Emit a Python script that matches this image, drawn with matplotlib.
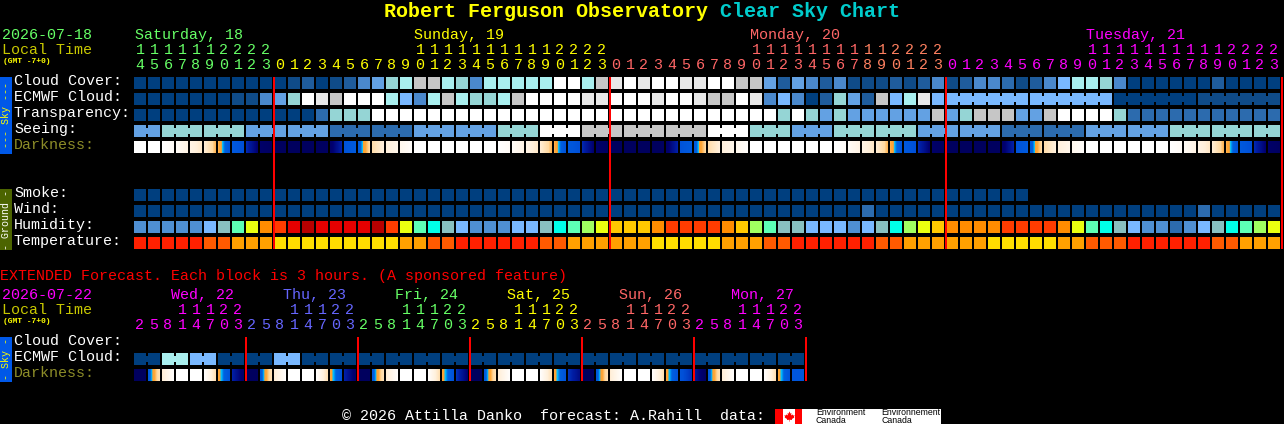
import matplotlib
matplotlib.use("Agg")
import numpy as np
import matplotlib.pyplot as plt
from matplotlib.colors import LinearSegmentedColormap

# ---------- data ----------
title_main = "Robert Ferguson Observatory"
title_tail = "Clear Sky Chart"
row_labels_sky = ["Cloud Cover:", "ECMWF Cloud:", "Transparency:", "Seeing:", "Darkness:"]
row_labels_ground = ["Smoke:", "Wind:", "Humidity:", "Temperature:"]

hours = [14, 15, 16, 17, 18, 19, 20, 21, 22, 23] + list(range(24)) * 3
ext_hours = [2, 5, 8, 11, 14, 17, 20, 23] * 6

cloud_cover = ("aaaaaaaaaa" "abcabcefhil"
               "liheiiiiijjilkjkjjkkjjllfcfecebbbcbcebceedbcegiihe" "aaaaaacaaaa")
ecmwf_cloud = ("aaaaaaabbefhjkljjjige" "ilihhiljjjjkkjjjkjjklljkegeachfclgikg"
               + "g" * 12 + "a" * 6 + "b" * 6)
transparency = ("a" * 13 + "dhhh" + "j" * 29 + "hjhfhf" + "fffff" + "lfhlllffl" + "jjjj" + "h" + "d" * 11)
seeing = ("ff" + "h" * 6 + "f" * 6 + "d" * 6 + "f" * 6 + "hhh" + "jjj" + "l" * 9 + "jjj" + "hhh"
          + "fff" + "h" * 6 + "f" * 6 + "d" * 6 + "f" * 6 + "h" * 8)
seeing_groups = [2] + [3] * 26 + [2]
ecmwf_groups = [1] * 58 + [6, 6, 6, 6]

smoke = "a" * 64
wind = "a" * 52 + "d" + "a" * 23 + "d" + "a" * 5
humidity = ("eeeeegtmyoRrDrrrrDRym"
            "ctgeeeggtcmnyuuuoRRRRounmttggge"
            "gtcnyuooooRRRRoymctgeedegtcmny")
temperature = ("RRRRR" "ooOOO" "YYYYYYYYY" "OO" "oo" "RRRRRR" "oo" "OOOOOO" "YYYYY" "OOO" "oo"
               "RRRRRR" "oo" "OOOOOO" "YYYYY" "OO" "ooo" "RRRRRR" "oo" "OOO")

dark_left = [0, 0, 0, .05, .15, .22, .41, .56, .70, .88,
             .93, .93, .93, .93, .88, .60, .56, .32, .20, .10, 0, 0, 0, 0, 0, 0, 0, .05, .15, .22, .41, .56, .70, .88,
             .93, .93, .93, .93, .88, .60, .56, .32, .20, .10, 0, 0, 0, 0, 0, 0, 0, .05, .15, .22, .41, .56, .70, .88,
             .93, .93, .93, .93, .88, .60, .56, .32, .20, .10, 0, 0, 0, 0, 0, 0, 0, .05, .15, .22, .41, .56, .70, .88]
dark_right = [0, 0, .05, .15, .25, .40, .60, .62, .85, .92,
              .93, .93, .93, .92, .72, .55, .34, .20, .12, .03, 0, 0, 0, 0, 0, 0, .05, .15, .25, .40, .60, .62, .85, .92,
              .93, .93, .93, .92, .72, .55, .34, .20, .12, .03, 0, 0, 0, 0, 0, 0, .05, .15, .25, .40, .60, .62, .85, .92,
              .93, .93, .93, .92, .72, .55, .34, .20, .12, .03, 0, 0, 0, 0, 0, 0, .05, .15, .25, .40, .60, .62, .85, .92]

ext_ecmwf = "aa" + "ii" + "gg" + "aa" + "aa" + "gg" + "a" * 36
ext_groups = [2] * 24
ext_dark_left = [.93, .56, .22, 0, 0, .02, .44, .72,
                 .93, .56, .22, 0, 0, .02, .44, .72,
                 .93, .56, .22, 0, 0, .02, .44, .68,
                 .93, .56, .22, 0, 0, .02, .44, .68,
                 .93, .56, .22, 0, 0, .02, .44, .60,
                 .75, .56, .22, 0, 0, .02, .44, .58]
ext_dark_right = [.93, .30, .02, 0, 0, .30, .60, .88,
                  .93, .30, .02, 0, 0, .30, .60, .88,
                  .93, .30, .02, 0, 0, .30, .60, .85,
                  .93, .30, .02, 0, 0, .30, .60, .80,
                  .93, .30, .02, 0, 0, .30, .60, .68,
                  .92, .30, .02, 0, 0, .30, .60, .58]

day_labels = ["Saturday, 18", "Sunday, 19", "Monday, 20", "Tuesday, 21"]
ext_day_labels = ["Wed, 22", "Thu, 23", "Fri, 24", "Sat, 25", "Sun, 26", "Mon, 27"]

assert all(len(r) == 82 for r in (cloud_cover, ecmwf_cloud, transparency, seeing, wind, humidity, temperature,
                                  dark_left, dark_right)), "row length"
assert len(ext_ecmwf) == 48 and len(ext_dark_left) == 48 and len(ext_dark_right) == 48, "ext length"

# ---------- styles ----------
palette = dict(a="#003F7F", b="#0F4B88", c="#1F5C9C", d="#2C6BAE", e="#4A88CC", f="#63A1E3", g="#79B8FF",
               h="#95D5D5", i="#A9EFEF", j="#FFFFFF", k="#E8E8E8", l="#C6C6C6")
hum_palette = dict(e="#4F8FD2", g="#79B8FF", t="#88C0C0", c="#00FFE8", m="#5DFFB5", n="#A0FF60", y="#EAFF10",
                   u="#FFC800", o="#FF8C00", R="#FF3C00", r="#E60000", D="#B80000", d="#2C6BAE")
tmp_palette = dict(R="#FF2000", o="#FF5A00", O="#FFA000", Y="#FFDD00")
dark_cmap = LinearSegmentedColormap.from_list("dark", [
    (0.00, "#FFFFFF"), (0.20, "#FFF0DC"), (0.35, "#FFD9A0"), (0.42, "#FFA838"), (0.46, "#FFA030"),
    (0.48, "#00C0FF"), (0.52, "#0060E0"), (0.62, "#0050D8"), (0.72, "#0020A8"), (0.85, "#000070"),
    (1.00, "#000050")])

GREEN, YELLOW, SALMON, MAGENTA, BLUE = "#66FF66", "#FFFF00", "#FF6666", "#FF00FF", "#6666FF"
OLIVE = "#C8C800"
MONO = "Liberation Mono"
X0, PITCH, CELL = 134, 14, 12
FS = 15 * 0.72   # 15 px text
LEAF = [(0, 1), (.18, .55), (.38, .7), (.3, .2), (.6, .4), (.7, .2), (1, .25), (.85, -.1), (.95, -.2), (.45, -.5),
        (.5, -.7), (.05, -.62), (.05, -1), (-.05, -1), (-.05, -.62), (-.5, -.7), (-.45, -.5), (-.95, -.2),
        (-.85, -.1), (-1, .25), (-.7, .2), (-.6, .4), (-.3, .2), (-.38, .7), (-.18, .55)]

fig = plt.figure(figsize=(12.84, 4.24), dpi=100, facecolor="black")
ax = fig.add_axes([0, 0, 1, 1], facecolor="black")
ax.set_xlim(0, 1284)
ax.set_ylim(424, 0)
ax.axis("off")


def txt(x, y, s, color="white", size=FS, ha="left", weight="normal", family=MONO, **kw):
    ax.text(x, y, s, color=color, fontsize=size, ha=ha, va="baseline", fontweight=weight, family=family, **kw)


def rect(x, y, w, h, color, z=2):
    bars = ax.bar(x, h, w, y, align="edge", color=color, linewidth=0, zorder=z)
    for b in bars:
        b.set_snap(False)


def cell_row(y, codes, pal, groups=None):
    xs = X0 + PITCH * np.arange(len(codes))
    bars = ax.bar(xs, CELL, CELL, y, align="edge", color=[pal[c] for c in codes], linewidth=0, zorder=2)
    for b in bars:
        b.set_snap(False)
    if groups:
        start = 0
        for g in groups:
            for k in range(start, start + g - 1):
                rect(xs[k] + CELL, y + 3, PITCH - CELL, 6, pal[codes[k]])
            start += g


def dark_row(y, left, right):
    for i, (a, b) in enumerate(zip(left, right)):
        x = X0 + PITCH * i
        grad = np.linspace(a, b, CELL).reshape(1, -1)
        ax.imshow(grad, cmap=dark_cmap, vmin=0, vmax=1, extent=(x, x + CELL, y + CELL, y),
                  aspect="auto", interpolation="nearest", zorder=2)
    ax.set_xlim(0, 1284)
    ax.set_ylim(424, 0)


# title
ax.text(384, 17, title_main, color=YELLOW, fontsize=20 * 0.72, fontweight="bold", family=MONO, va="baseline")
ax.text(384 + 12 * (len(title_main) + 1), 17, title_tail, color="#00CCCC", fontsize=20 * 0.72,
        fontweight="bold", family=MONO, va="baseline")

# header main
txt(2, 39, "2026-07-18", GREEN)
txt(2, 54, "Local Time", OLIVE)
txt(3, 63, "(GMT -7+0)", YELLOW, size=8 * 0.72, weight="bold")
for x, s, c in zip([135, 414, 750, 1086], day_labels, [GREEN, YELLOW, SALMON, MAGENTA]):
    txt(x, 39, s, c)
for i, h in enumerate(hours):
    c = GREEN if i < 10 else YELLOW if i < 34 else SALMON if i < 52 else "#FF8060" if i < 58 else MAGENTA
    cx = X0 + PITCH * i + CELL / 2
    if h >= 10:
        txt(cx, 54, str(h // 10), c, ha="center")
    txt(cx, 69, str(h % 10), c, ha="center")

# sky rows
for k, lab in enumerate(row_labels_sky):
    txt(14, 85 + 16 * k, lab, "#8C8C28" if lab == "Darkness:" else "white")
cell_row(77, cloud_cover, palette)
cell_row(93, ecmwf_cloud, palette, ecmwf_groups)
cell_row(109, transparency, palette)
cell_row(125, seeing, palette, seeing_groups)
dark_row(141, dark_left, dark_right)

# ground rows
for k, lab in enumerate(row_labels_ground):
    txt(14, 197 + 16 * k, lab)
cell_row(189, smoke, palette)
cell_row(205, wind, palette)
cell_row(221, humidity, hum_palette)
cell_row(237, temperature, tmp_palette)

# side strips
rect(0, 77, 12, 77, "#0058E8")
ax.text(6, 115.5, "--- Sky ---", color=YELLOW, fontsize=10 * 0.72, rotation=90, ha="center", va="center", family=MONO, zorder=3)
rect(0, 189, 12, 61, "#4C6400")
ax.text(6, 219.5, "- Ground -", color="white", fontsize=10 * 0.72, rotation=90, ha="center", va="center", family=MONO, zorder=3)
rect(0, 337, 12, 45, "#0058E8")
ax.text(6, 359.5, "- Sky -", color=YELLOW, fontsize=10 * 0.72, rotation=90, ha="center", va="center", family=MONO, zorder=3)

# day separators main
for i in (10, 34, 58, 82):
    rect(X0 + PITCH * i - 1, 77, 2, 172, "#FF0000", z=4)

# extended
txt(0, 280, "EXTENDED Forecast. Each block is 3 hours. (A sponsored feature)", "#FF0000")
txt(2, 299, "2026-07-22", MAGENTA)
txt(2, 314, "Local Time", OLIVE)
txt(3, 323, "(GMT -7+0)", YELLOW, size=8 * 0.72, weight="bold")
ext_colors = [MAGENTA, BLUE, GREEN, YELLOW, SALMON, MAGENTA]
for k, (s, c) in enumerate(zip(ext_day_labels, ext_colors)):
    txt(171 + 112 * k, 299, s, c)
for i, h in enumerate(ext_hours):
    c = ext_colors[i // 8]
    cx = X0 + PITCH * i + CELL / 2
    if h >= 10:
        txt(cx, 314, str(h // 10), c, ha="center")
    txt(cx, 329, str(h % 10), c, ha="center")
txt(14, 345, "Cloud Cover:")
txt(14, 361, "ECMWF Cloud:")
txt(14, 377, "Darkness:", "#8C8C28")
cell_row(353, ext_ecmwf, palette, ext_groups)
dark_row(369, ext_dark_left, ext_dark_right)
for d in range(1, 7):
    rect(X0 + PITCH * 8 * d - 1, 337, 2, 44, "#FF0000", z=4)

# footer
txt(342, 420, "\u00a9 2026 Attilla Danko  forecast: A.Rahill  data:")
rect(775, 409, 166, 15, "#FFFFFF")
rect(775, 409, 8, 15, "#FF0000", z=3)
rect(795, 409, 7, 15, "#FF0000", z=3)
ax.scatter([789], [416], marker=LEAF, s=55, color="#FF0000", linewidths=0, zorder=3)
for x, word in zip((816, 881), ("Environment", "Environnement")):
    txt(x, 415, word, "black", size=6.3, family="Liberation Sans", zorder=3)
    txt(x, 423, "Canada", "black", size=6.3, family="Liberation Sans", zorder=3)

fig.savefig("out.png", dpi=100, facecolor="black")
